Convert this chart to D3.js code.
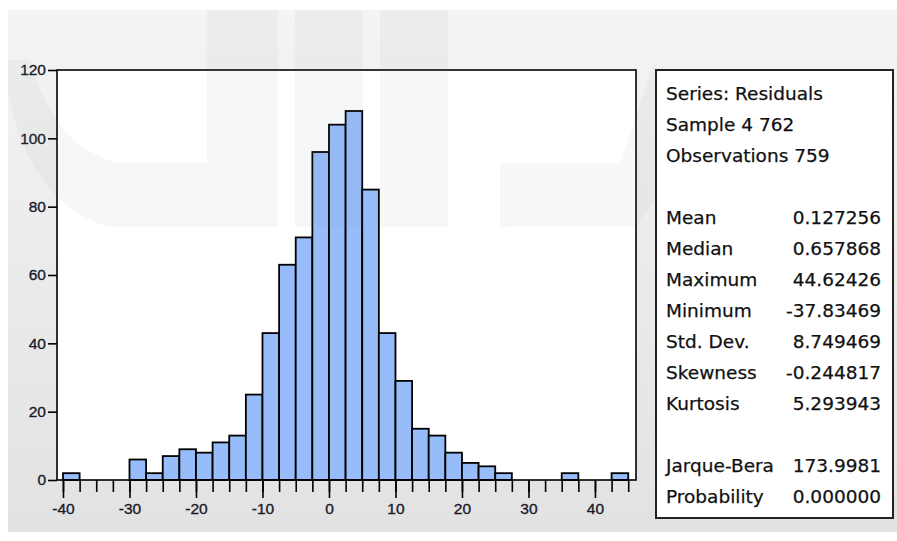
<!doctype html>
<html>
<head>
<meta charset="utf-8">
<script src="https://d3js.org/d3.v7.min.js"></script>
<style>
  body { margin: 0; background: #ffffff; }
  .axis path, .axis line { stroke: #000; stroke-width: 1.6; }
  .stats text { font-family: "DejaVu Sans", sans-serif; font-size: 18.5px; fill: #111; stroke: #111; stroke-width: 0.25; }
</style>
</head>
<body>
<script>
// histogram bins (lower edge, width 2.5) and counts
var binStarts = [-40, -37.5, -35, -32.5, -30, -27.5, -25, -22.5, -20, -17.5, -15, -12.5, -10, -7.5, -5, -2.5,
                 0, 2.5, 5, 7.5, 10, 12.5, 15, 17.5, 20, 22.5, 25, 27.5, 30, 32.5, 35, 37.5, 40, 42.5];
var counts = [2, 0, 0, 0, 6, 2, 7, 9, 8, 11, 13, 25, 43, 63, 71, 96,
              104, 108, 85, 43, 29, 15, 13, 8, 5, 4, 2, 0, 0, 0, 2, 0, 0, 2];
var binWidth = 2.5;
var yTicks = [0, 20, 40, 60, 80, 100, 120];
var xMajor = [-40, -30, -20, -10, 0, 10, 20, 30, 40];

var statHeader = ["Series: Residuals", "Sample 4 762", "Observations 759"];
var statNames = ["Mean", "Median", "Maximum", "Minimum", "Std. Dev.", "Skewness", "Kurtosis"];
var statValues = ["0.127256", "0.657868", "44.62426", "-37.83469", "8.749469", "-0.244817", "5.293943"];
var testNames = ["Jarque-Bera", "Probability"];
var testValues = ["173.9981", "0.000000"];

var W = 897, H = 541;
var svg = d3.select("body").append("svg").attr("width", W).attr("height", H);

var grad = svg.append("defs").append("linearGradient")
  .attr("id", "bg").attr("x1", 0).attr("y1", 0).attr("x2", 0).attr("y2", 1);
grad.append("stop").attr("offset", "0%").attr("stop-color", "#f4f4f4");
grad.append("stop").attr("offset", "100%").attr("stop-color", "#e2e2e2");

svg.append("rect").attr("width", W).attr("height", H).attr("fill", "#ffffff");
svg.append("rect").attr("x", 8).attr("y", 10).attr("width", W - 8).attr("height", 522).attr("fill", "url(#bg)");

var pLeft = 57, pRight = 636, pTop = 70, pBottom = 480;
var x = d3.scaleLinear().domain([-40.9, 46.17]).range([pLeft, pRight]);
var y = d3.scaleLinear().domain([0, 120]).range([pBottom, pTop]);

svg.append("rect")
  .attr("x", pLeft).attr("y", pTop)
  .attr("width", pRight - pLeft).attr("height", pBottom - pTop)
  .attr("fill", "#ffffff");

var bins = binStarts.map(function (d, i) { return {x0: d, n: counts[i]}; })
  .filter(function (d) { return d.n > 0; });

svg.selectAll("rect.bar")
  .data(bins)
  .enter().append("rect")
  .attr("class", "bar")
  .attr("x", function (d) { return x(d.x0); })
  .attr("width", function (d) { return x(d.x0 + binWidth) - x(d.x0); })
  .attr("y", function (d) { return y(d.n); })
  .attr("height", function (d) { return pBottom - y(d.n); })
  .attr("fill", "#97bcfa")
  .attr("stroke", "#000")
  .attr("stroke-width", 1.8);

// frame
svg.append("rect")
  .attr("x", pLeft).attr("y", pTop)
  .attr("width", pRight - pLeft).attr("height", pBottom - pTop)
  .attr("fill", "none").attr("stroke", "#000").attr("stroke-width", 1.6);

// y axis
var yAxis = svg.append("g").attr("class", "axis")
  .attr("transform", "translate(" + pLeft + ",0)")
  .call(d3.axisLeft(y).tickValues(yTicks).tickSize(9).tickPadding(2).tickFormat(function (d) { return String(d); }));
yAxis.select(".domain").remove();

// x axis: minor ticks at bin edges, major ticks with labels
var edges = binStarts.concat([45]);
var xMinor = svg.append("g").attr("class", "axis")
  .attr("transform", "translate(0," + pBottom + ")")
  .call(d3.axisBottom(x).tickValues(edges).tickSize(12).tickFormat(""));
xMinor.select(".domain").remove();
var xAxis = svg.append("g").attr("class", "axis")
  .attr("transform", "translate(0," + pBottom + ")")
  .call(d3.axisBottom(x).tickValues(xMajor).tickSize(18).tickPadding(5).tickFormat(function (d) { return String(d); }));
xAxis.select(".domain").remove();

svg.selectAll(".axis text")
  .attr("font-family", "'Liberation Sans', Arial, sans-serif")
  .attr("font-size", 15.5)
  .attr("fill", "#1a1a2a")
  .attr("stroke", "#1a1a2a")
  .attr("stroke-width", 0.35);

// statistics box
var bx = 656, by = 70, bw = 237, bh = 448;
var stats = svg.append("g").attr("class", "stats");
stats.append("rect")
  .attr("x", bx).attr("y", by).attr("width", bw).attr("height", bh)
  .attr("fill", "#ffffff").attr("stroke", "#222").attr("stroke-width", 2);

var lineH = 31, tx = 666, vx = 881, ty0 = 100;
stats.selectAll("text.hdr").data(statHeader).enter().append("text")
  .attr("x", tx).attr("y", function (d, i) { return ty0 + i * lineH; })
  .text(function (d) { return d; });
stats.selectAll("text.nm").data(statNames).enter().append("text")
  .attr("x", tx).attr("y", function (d, i) { return ty0 + (i + 4) * lineH; })
  .text(function (d) { return d; });
stats.selectAll("text.val").data(statValues).enter().append("text")
  .attr("x", vx).attr("text-anchor", "end")
  .attr("y", function (d, i) { return ty0 + (i + 4) * lineH; })
  .text(function (d) { return d; });
stats.selectAll("text.tn").data(testNames).enter().append("text")
  .attr("x", tx).attr("y", function (d, i) { return ty0 + (i + 12) * lineH; })
  .text(function (d) { return d; });
stats.selectAll("text.tv").data(testValues).enter().append("text")
  .attr("x", vx).attr("text-anchor", "end")
  .attr("y", function (d, i) { return ty0 + (i + 12) * lineH; })
  .text(function (d) { return d; });

// faint watermark over the upper part of the picture
var wm = svg.append("g").attr("fill", "#6f948c").attr("opacity", 0.055);
wm.append("rect").attr("x", 207).attr("y", 10).attr("width", 71).attr("height", 217);
wm.append("rect").attr("x", 295).attr("y", 10).attr("width", 68).attr("height", 217);
wm.append("rect").attr("x", 380).attr("y", 10).attr("width", 68).attr("height", 217);
wm.append("path").attr("d", "M8,92 Q30,205 110,227 L207,227 L207,163 L120,163 Q55,150 30,60 L8,60 Z");
wm.append("path").attr("d", "M500,163 L620,163 L655,60 L655,200 L635,227 L500,227 Z");
</script>
</body>
</html>
